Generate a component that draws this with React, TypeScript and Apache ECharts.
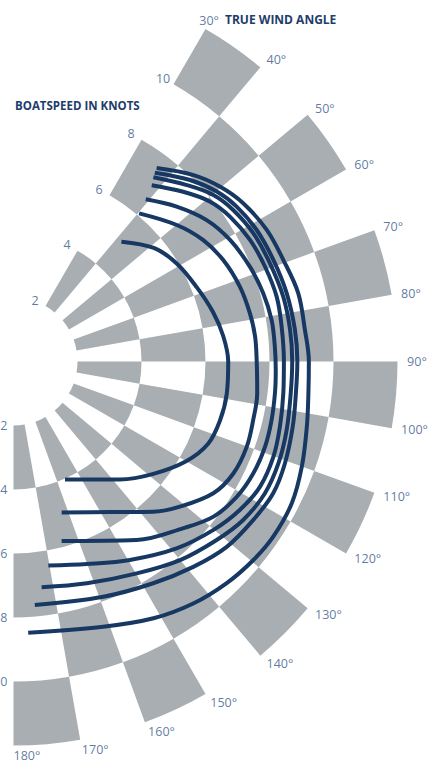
import React, { useEffect, useRef } from 'react';
import * as echarts from 'echarts';

// True wind angle band edges (degrees) and boatspeed ring edges (knots)
const angleTicks = [30, 40, 50, 60, 70, 80, 90, 100, 110, 120, 130, 140, 150, 160, 170, 180];
const ringEdges = [2, 4, 6, 8, 10, 12];
const speedTicks = [2, 4, 6, 8, 10];

// Polar curves: [boatspeed knots, true wind angle degrees]
const curve1 = [[5.04, 42], [5.64, 51], [5.95, 59], [6.18, 68], [6.42, 76], [6.6, 83], [6.71, 90], [6.74, 98.5], [6.71, 106], [6.6, 113], [6.23, 120], [5.59, 129], [4.96, 138], [4.43, 146.4], [4.02, 156.4]];
const curve2 = [[6.07, 40.3], [6.65, 50.1], [7.04, 57.4], [7.28, 64.2], [7.45, 71.7], [7.54, 78.5], [7.59, 84.1], [7.6, 90], [7.68, 97.4], [7.71, 103.7], [7.76, 110.1], [7.71, 117], [7.48, 123.4], [6.9, 131.1], [6.41, 137.1], [5.59, 147.3], [4.95, 162.3]];
const curve3 = [[6.54, 39.2], [7.03, 46.5], [7.48, 53.8], [7.76, 60.7], [7.96, 68.2], [8.09, 74.7], [8.17, 80.9], [8.18, 86.8], [8.2, 91.9], [8.23, 96.9], [8.27, 102.8], [8.3, 108.7], [8.27, 115], [8.16, 121.2], [7.91, 127.8], [7.44, 134.4], [6.78, 145.4], [5.81, 165]];
const curve4 = [[7.0, 38.1], [7.5, 45], [7.92, 50.9], [8.14, 56.2], [8.31, 62.8], [8.4, 69.3], [8.47, 76.2], [8.45, 82.6], [8.45, 90], [8.49, 96.7], [8.57, 103.7], [8.65, 110.1], [8.64, 116.9], [8.46, 123.2], [8.17, 130.1], [7.75, 138.9], [7.19, 149.6], [6.73, 160.1], [6.47, 170.3]];
const curve5 = [[7.23, 37.2], [7.73, 44.5], [8.13, 50.2], [8.34, 55.4], [8.5, 61.9], [8.58, 69], [8.67, 76.5], [8.7, 83.5], [8.71, 90], [8.72, 96.5], [8.8, 104.1], [8.87, 111], [8.87, 117.7], [8.72, 124.6], [8.45, 131.3], [8.1, 140], [7.66, 149.8], [7.3, 161.7], [7.11, 172.9]];
const curve6 = [[7.37, 36.8], [7.91, 44.2], [8.28, 50.1], [8.49, 55.3], [8.64, 61.6], [8.72, 68.7], [8.8, 76], [8.85, 83.6], [8.87, 90], [8.88, 96.4], [8.96, 103.1], [9.06, 110.6], [9.1, 116.9], [8.98, 123.5], [8.83, 131], [8.53, 138.8], [8.19, 147.8], [7.87, 159.1], [7.64, 175]];
const curve7 = [[7.52, 36.5], [8.1, 44], [8.46, 49.8], [8.72, 55.5], [8.92, 62.6], [9.01, 69.4], [9.15, 76.5], [9.16, 83.8], [9.23, 90], [9.27, 96.2], [9.39, 102.5], [9.59, 110], [9.76, 117], [9.79, 124], [9.73, 129.6], [9.61, 136.1], [9.42, 143.4], [9.14, 151.4], [8.75, 161.3], [8.49, 176.9]];

const curves = [curve1, curve2, curve3, curve4, curve5, curve6, curve7];

const GRAY = '#a9aeb2';
const NAVY = '#163863';
const LABEL = '#36588a';
const FONT = '"Open Sans", "Noto Sans", sans-serif';

export default function App() {
  const ref = useRef<HTMLDivElement>(null);

  useEffect(() => {
    if (!ref.current) return;
    const chart = echarts.init(ref.current, null, { renderer: 'svg' });

    const cells: number[][] = [];
    for (let i = 0; i < angleTicks.length - 1; i++) {
      for (let j = 0; j < ringEdges.length - 1; j++) {
        if ((i + j) % 2 === 0) {
          cells.push([ringEdges[j], angleTicks[i], ringEdges[j + 1], angleTicks[i + 1]]);
        }
      }
    }

    const option: any = {
      animation: false,
      backgroundColor: '#ffffff',
      // 32 px per knot; axis runs to 12.5 knots so angle labels sit just outside the 12-knot rim
      polar: { center: [13.5, 361.5], radius: [0, 400] },
      radiusAxis: {
        type: 'value', min: 0, max: 12.5,
        axisLine: { show: false }, axisTick: { show: false },
        axisLabel: { show: false }, splitLine: { show: false },
      },
      angleAxis: {
        type: 'value', min: 0, max: 360, interval: 10, startAngle: 90, clockwise: true,
        axisLine: { show: false }, axisTick: { show: false },
        axisLabel: { show: false }, splitLine: { show: false },
      },
      graphic: [
        {
          type: 'text', left: 225, top: 13,
          style: { text: 'TRUE WIND ANGLE', fill: '#1e3d6b', font: `bold 12px ${FONT}` },
        },
        {
          type: 'text', left: 15, top: 99,
          style: { text: 'BOATSPEED IN KNOTS', fill: '#1e3d6b', font: `bold 11.5px ${FONT}` },
        },
      ],
      series: [
        {
          type: 'custom',
          coordinateSystem: 'polar',
          dimensions: ['r0', 'a0', 'r1', 'a1'],
          encode: { radius: 0, angle: 1 },
          silent: true,
          data: cells,
          renderItem: (params: any, api: any) => {
            const r0 = api.value(0), a0 = api.value(1), r1 = api.value(2), a1 = api.value(3);
            const cs = params.coordSys;
            const cx = cs.cx, cy = cs.cy;
            const pIn = api.coord([r0, a0]);
            const pOut = api.coord([r1, a0]);
            const pEnd = api.coord([r1, a1]);
            const rin = Math.hypot(pIn[0] - cx, pIn[1] - cy);
            const rout = Math.hypot(pOut[0] - cx, pOut[1] - cy);
            const sa = Math.atan2(pOut[1] - cy, pOut[0] - cx);
            const ea = Math.atan2(pEnd[1] - cy, pEnd[0] - cx);
            return {
              type: 'sector',
              shape: { cx, cy, r0: rin, r: rout, startAngle: sa, endAngle: ea, clockwise: true },
              style: { fill: GRAY },
            };
          },
          z: 1,
        },
        ...curves.map((c, i) => ({
          type: 'line',
          name: 'tws' + i,
          coordinateSystem: 'polar',
          data: c,
          smooth: 0.35,
          showSymbol: false,
          symbol: 'none',
          silent: true,
          lineStyle: { color: NAVY, width: 4, cap: 'butt' },
          z: 3,
        })),
        {
          type: 'scatter',
          coordinateSystem: 'polar',
          symbolSize: 0,
          silent: true,
          clip: false,
          data: angleTicks.map((a) => ({
            value: [12.3, a],
            label: a === 30 ? { offset: [-11, 0] } : undefined,
          })),
          label: {
            show: true, position: [0, 0], align: 'left', verticalAlign: 'middle',
            formatter: (p: any) => p.value[1] + '°',
            color: LABEL, fontSize: 12.5, fontFamily: FONT,
          },
          z: 4,
        },
        {
          type: 'scatter',
          coordinateSystem: 'polar',
          symbolSize: 0,
          silent: true,
          data: speedTicks.map((s) => [s, 30]),
          label: {
            show: true, position: [0, 0], align: 'center', verticalAlign: 'middle',
            offset: [-10.4, -6],
            formatter: (p: any) => String(p.value[0]),
            color: LABEL, fontSize: 12.5, fontFamily: FONT,
          },
          z: 4,
        },
        {
          type: 'scatter',
          coordinateSystem: 'polar',
          symbolSize: 0,
          silent: true,
          data: speedTicks.map((s) => [s, 180]),
          label: {
            show: true, position: [0, 0], align: 'right', verticalAlign: 'middle',
            offset: [-6, 0],
            formatter: (p: any) => String(p.value[0]),
            color: LABEL, fontSize: 12.5, fontFamily: FONT,
          },
          z: 4,
        },
      ],
    };

    chart.setOption(option);
    return () => chart.dispose();
  }, []);

  return (
    <div
      ref={ref}
      style={{ position: 'fixed', left: 0, top: 0, width: 446, height: 776, background: '#fff' }}
    />
  );
}
